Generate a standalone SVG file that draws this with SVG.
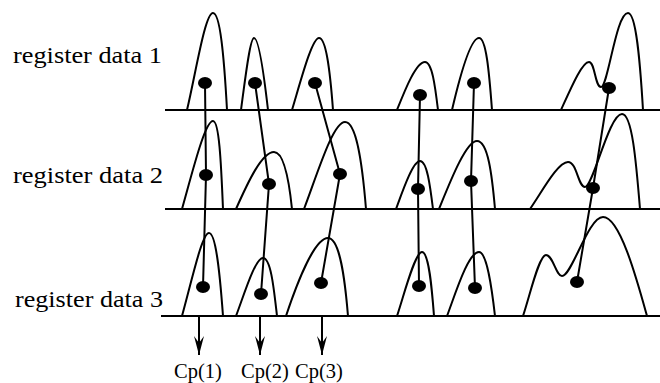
<svg xmlns="http://www.w3.org/2000/svg" width="660" height="383" viewBox="0 0 660 383">
<style>
.base{stroke:#000;stroke-width:2;fill:none}
.peak{stroke:#000;stroke-width:2;fill:none;stroke-linejoin:round}
.link{stroke:#000;stroke-width:2;fill:none}
.dot{fill:#000}
.lbl{font-family:"Liberation Serif","Times New Roman",serif;font-size:23px;fill:#000}
.cp{font-family:"Liberation Serif","Times New Roman",serif;font-size:20.5px;fill:#000}
</style>
<defs>
<marker id="ah" viewBox="-20 -7 21 14" refX="0" refY="0" markerWidth="21" markerHeight="14" markerUnits="userSpaceOnUse" orient="auto">
<path d="M0,0 L-19,-5 L-12,0 L-19,5 Z" fill="#000"/>
</marker>
</defs>
<rect width="660" height="383" fill="#fff"/>

<g id="labels">
<text class="lbl" x="13" y="63" textLength="149" lengthAdjust="spacingAndGlyphs">register data 1</text>
<text class="lbl" x="13" y="183" textLength="150" lengthAdjust="spacingAndGlyphs">register data 2</text>
<text class="lbl" x="15" y="307" textLength="148" lengthAdjust="spacingAndGlyphs">register data 3</text>
</g>

<g id="baselines">
<line class="base" x1="165" y1="110" x2="660" y2="110"/>
<line class="base" x1="165" y1="209" x2="660" y2="209"/>
<line class="base" x1="161" y1="316" x2="660" y2="316"/>
</g>

<g id="row1">
<path class="peak" d="M187,110 C196,72 205,13 213,13 C220,13 224,55 227,110"/>
<path class="peak" d="M241,110 C245,80 250,38 254,38 C259,38 264,75 268,110"/>
<path class="peak" d="M292,110 C301,80 312,38 319,38 C326,38 330,70 333,110"/>
<path class="peak" d="M397,110 C405,90 416,62 425,62 C432,62 435,85 438,110"/>
<path class="peak" d="M452,110 C459,80 470,38 479,38 C486,38 489,70 492,110"/>
<path class="peak" d="M561,110 C571,88 582,62 589,62 C595,62 595,87 601,87 C608,87 616,13 628,13 C636,13 640,60 643,110"/>
</g>

<g id="row2">
<path class="peak" d="M182,209 C193,170 205,121 213,121 C219,121 221,160 223,209"/>
<path class="peak" d="M236,209 C248,182 262,152 274,152 C284,152 289,180 292,209"/>
<path class="peak" d="M304,209 C318,172 333,122 345,122 C356,122 362,160 366,209"/>
<path class="peak" d="M396,209 C403,190 413,161 420,161 C427,161 430,185 433,209"/>
<path class="peak" d="M439,209 C450,182 466,141 477,141 C488,141 492,175 495,209"/>
<path class="peak" d="M530,209 C543,190 558,162 568,162 C577,162 578,187 585,187 C593,187 609,114 622,114 C632,114 636,160 640,209"/>
</g>

<g id="row3">
<path class="peak" d="M182,316 C192,280 202,233 209,233 C216,233 220,275 223,316"/>
<path class="peak" d="M236,316 C244,295 255,258 263,258 C271,258 274,290 277,316"/>
<path class="peak" d="M286,316 C298,280 315,238 328,238 C340,238 345,280 348,316"/>
<path class="peak" d="M397,316 C404,295 415,252 422,252 C429,252 432,290 434,316"/>
<path class="peak" d="M447,316 C455,295 468,252 479,252 C487,252 492,290 495,316"/>
<path class="peak" d="M523,316 C530,295 539,255 546,255 C553,255 556,276 562,276 C572,276 588,217 603,217 C620,217 637,280 647,316"/>
</g>

<g id="connectors">
<polyline class="link" points="205,83 206,175 203,287"/>
<polyline class="link" points="255,83 269,184 261,294"/>
<polyline class="link" points="315,83 340,174 321,283"/>
<polyline class="link" points="420,95 418,189 419,286"/>
<polyline class="link" points="474,83 471,181 475,288"/>
<polyline class="link" points="609,88 593,188 577,282"/>
<line class="link" x1="199" y1="316" x2="199" y2="355" marker-end="url(#ah)"/>
<line class="link" x1="260" y1="316" x2="260" y2="355" marker-end="url(#ah)"/>
<line class="link" x1="322" y1="316" x2="322" y2="355" marker-end="url(#ah)"/>
</g>

<g id="dots">
<ellipse class="dot" cx="205" cy="83" rx="7" ry="6"/>
<ellipse class="dot" cx="255" cy="83" rx="7" ry="6"/>
<ellipse class="dot" cx="315" cy="83" rx="7" ry="6"/>
<ellipse class="dot" cx="420" cy="95" rx="7" ry="6"/>
<ellipse class="dot" cx="474" cy="83" rx="7" ry="6"/>
<ellipse class="dot" cx="609" cy="88" rx="7" ry="6"/>
<ellipse class="dot" cx="206" cy="175" rx="7" ry="6"/>
<ellipse class="dot" cx="269" cy="184" rx="7" ry="6"/>
<ellipse class="dot" cx="340" cy="174" rx="7" ry="6"/>
<ellipse class="dot" cx="418" cy="189" rx="7" ry="6"/>
<ellipse class="dot" cx="471" cy="181" rx="7" ry="6"/>
<ellipse class="dot" cx="593" cy="188" rx="7" ry="6"/>
<ellipse class="dot" cx="203" cy="287" rx="7" ry="6"/>
<ellipse class="dot" cx="261" cy="294" rx="7" ry="6"/>
<ellipse class="dot" cx="321" cy="283" rx="7" ry="6"/>
<ellipse class="dot" cx="419" cy="286" rx="7" ry="6"/>
<ellipse class="dot" cx="475" cy="288" rx="7" ry="6"/>
<ellipse class="dot" cx="577" cy="282" rx="7" ry="6"/>
</g>

<g id="cp-labels">
<text class="cp" x="174" y="378">Cp(1)</text>
<text class="cp" x="241" y="378">Cp(2)</text>
<text class="cp" x="295" y="378">Cp(3)</text>
</g>
</svg>
